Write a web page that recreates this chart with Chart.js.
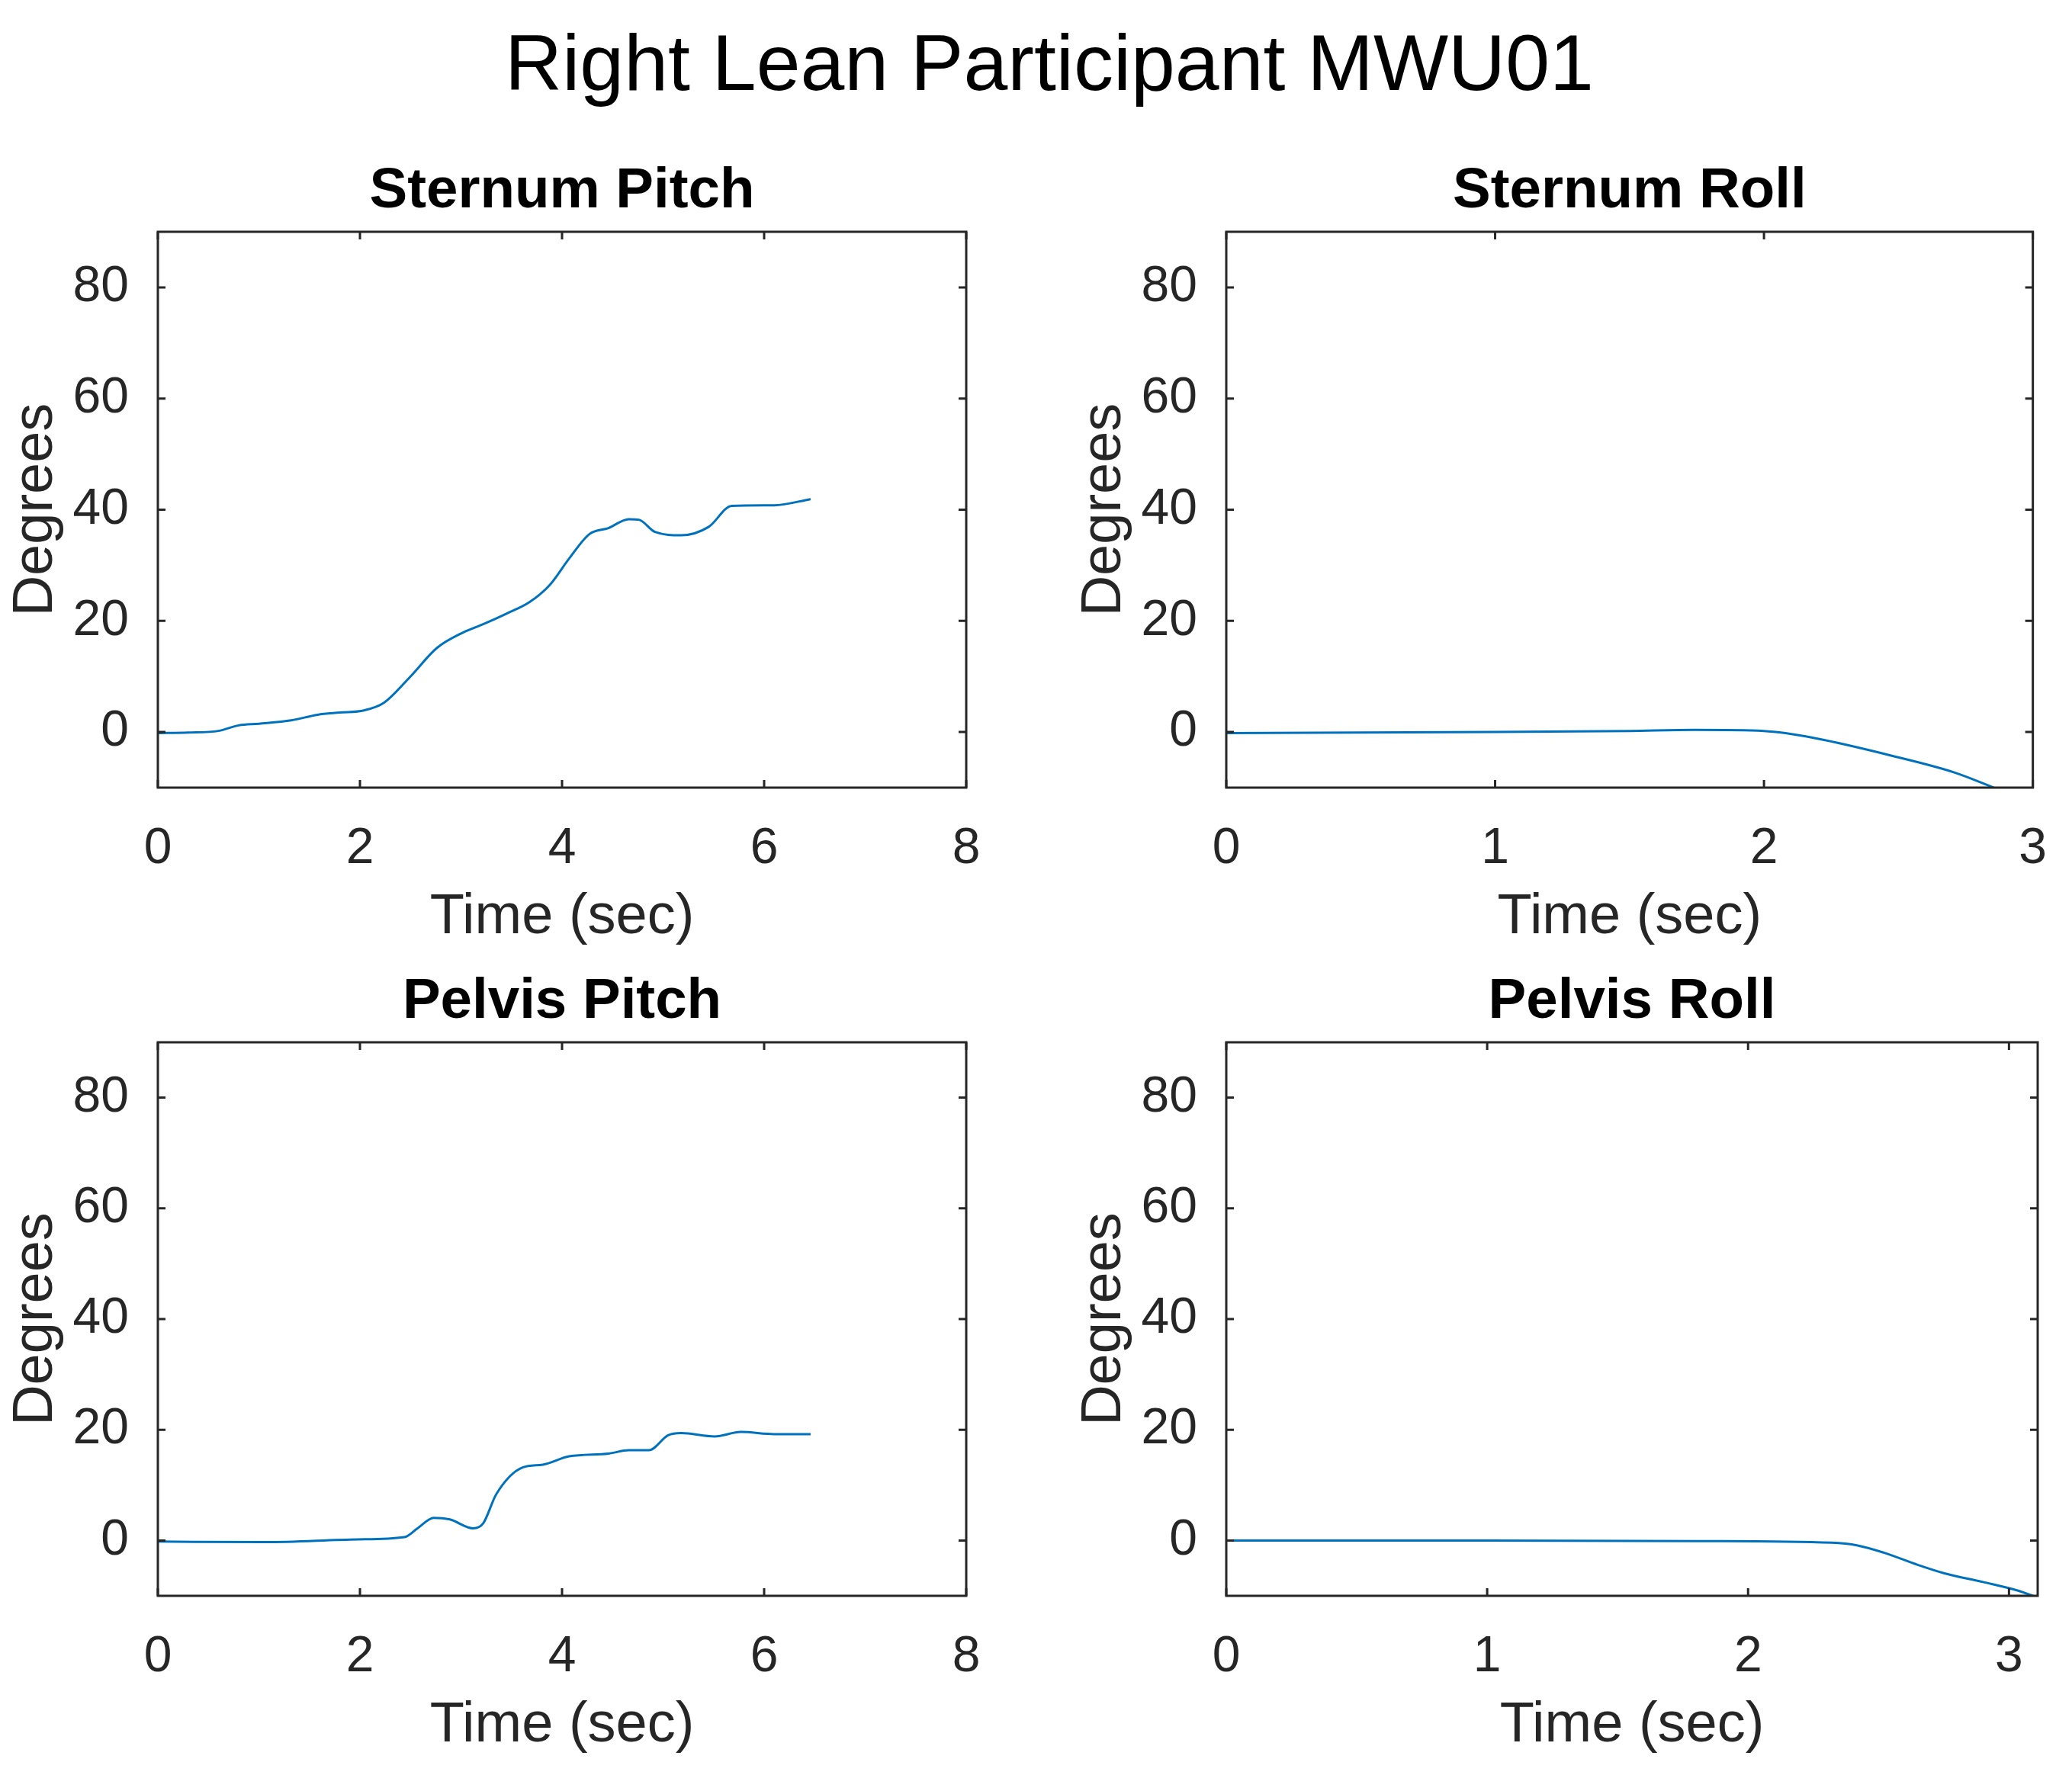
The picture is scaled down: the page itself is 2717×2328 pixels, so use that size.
<!DOCTYPE html>
<html>
<head>
<meta charset="utf-8">
<script src="https://cdn.jsdelivr.net/npm/chart.js@4.4.0/dist/chart.umd.min.js"></script>
<style>
  html, body { margin: 0; padding: 0; background: #ffffff; }
  #wrap { position: relative; width: 2717px; height: 2328px; overflow: hidden; }
  #wrap canvas { position: absolute; left: 0; top: 0; }
</style>
</head>
<body>
<div id="wrap">
  <canvas id="c1" width="2717" height="2328"></canvas>
  <canvas id="c2" width="2717" height="2328"></canvas>
  <canvas id="c3" width="2717" height="2328"></canvas>
  <canvas id="c4" width="2717" height="2328"></canvas>
</div>
<script>
// ---------- data ----------
const mainTitle = "Right Lean Participant MWU01";
const subTitles = ["Sternum Pitch", "Sternum Roll", "Pelvis Pitch", "Pelvis Roll"];
const xAxisLabel = "Time (sec)";
const yAxisLabel = "Degrees";

const yTicks = [0, 20, 40, 60, 80];
const yRange = [-10, 90];
const xTicksPitch = [0, 2, 4, 6, 8];
const xTicksRoll = [0, 1, 2, 3];
const xMaxSternumPitch = 8;
const xMaxSternumRoll = 3;
const xMaxPelvisPitch = 8;
const xMaxPelvisRoll = 3.11;

const sternumPitchT = [0, 0.3, 0.6, 0.8, 1.0, 1.32, 1.58, 1.8, 2.04, 2.24, 2.5, 2.76, 3.02, 3.22, 3.45, 3.68, 3.88, 4.07, 4.27, 4.46, 4.66, 4.76, 4.92, 5.18, 5.45, 5.68, 6.1, 6.46];
const sternumPitchV = [-0.2, -0.1, 0.2, 1.2, 1.5, 2.1, 3.1, 3.5, 3.9, 5.3, 10, 15.1, 17.9, 19.4, 21.3, 23.4, 26.5, 31.2, 35.6, 36.7, 38.3, 38.2, 36, 35.4, 36.9, 40.7, 40.8, 41.9];

const sternumRollT = [0, 0.5, 1.0, 1.5, 1.74, 2.0, 2.08, 2.22, 2.47, 2.71, 2.87];
const sternumRollV = [-0.2, -0.1, 0, 0.2, 0.4, 0.2, -0.2, -1.4, -4.2, -7.3, -10.3];

const pelvisPitchT = [0, 1.06, 1.98, 2.44, 2.57, 2.73, 2.89, 3.12, 3.22, 3.35, 3.61, 3.81, 4.07, 4.46, 4.66, 4.86, 5.05, 5.18, 5.51, 5.77, 6.1, 6.46];
const pelvisPitchV = [-0.2, -0.3, 0.2, 0.6, 2.2, 4.1, 3.8, 2.2, 3.1, 8.4, 13.2, 13.7, 15.2, 15.7, 16.3, 16.3, 19, 19.4, 18.8, 19.6, 19.2, 19.2];

const pelvisRollT = [0, 1.0, 1.81, 2.32, 2.42, 2.52, 2.65, 2.75, 2.9, 3.03, 3.11];
const pelvisRollV = [0, 0, -0.1, -0.4, -0.9, -2.2, -4.4, -5.9, -7.5, -9, -10.3];

// ---------- styling ----------
const FONT = "'Liberation Sans', Arial, Helvetica, sans-serif";
const LINE_COLOR = "#0072BD";
const AXIS_COLOR = "#262626";

function toPoints(ts, vs) { return ts.map((t, i) => ({ x: t, y: vs[i] })); }

const boxPlugin = {
  id: 'matlabBox',
  afterDatasetsDraw(chart) {
    const { ctx, chartArea: a, scales } = chart;
    const tl = 10;
    ctx.save();
    ctx.strokeStyle = AXIS_COLOR;
    ctx.lineWidth = 3;
    ctx.beginPath();
    scales.x.ticks.forEach(tk => {
      const px = scales.x.getPixelForValue(tk.value);
      ctx.moveTo(px, a.bottom); ctx.lineTo(px, a.bottom - tl);
      ctx.moveTo(px, a.top); ctx.lineTo(px, a.top + tl);
    });
    scales.y.ticks.forEach(tk => {
      const py = scales.y.getPixelForValue(tk.value);
      ctx.moveTo(a.left, py); ctx.lineTo(a.left + tl, py);
      ctx.moveTo(a.right, py); ctx.lineTo(a.right - tl, py);
    });
    ctx.stroke();
    ctx.strokeRect(a.left, a.top, a.right - a.left, a.bottom - a.top);
    ctx.restore();
  }
};

const mainTitlePlugin = {
  id: 'mainTitle',
  afterDraw(chart) {
    const ctx = chart.ctx;
    ctx.save();
    ctx.fillStyle = "#000000";
    ctx.font = "104px " + FONT;
    ctx.textAlign = "center";
    ctx.textBaseline = "alphabetic";
    ctx.fillText(mainTitle, 1376, 118);
    ctx.restore();
  }
};

function makeChart(id, title, pts, xMax, xTicks, padding, extraPlugins) {
  return new Chart(document.getElementById(id), {
    type: 'line',
    data: {
      datasets: [{
        data: pts,
        borderColor: LINE_COLOR,
        borderWidth: 3,
        pointRadius: 0,
        fill: false,
        cubicInterpolationMode: 'monotone'
      }]
    },
    options: {
      responsive: false,
      animation: false,
      devicePixelRatio: 1,
      layout: { padding: padding },
      plugins: {
        legend: { display: false },
        tooltip: { enabled: false },
        title: {
          display: true,
          text: title,
          fullSize: false,
          color: "#000000",
          font: { family: FONT, size: 74.5, weight: 'bold', lineHeight: 1.2 },
          padding: { top: 0, bottom: 8 }
        }
      },
      scales: {
        x: {
          type: 'linear',
          min: 0,
          max: xMax,
          grid: { display: false },
          border: { display: false },
          afterBuildTicks: s => { s.ticks = xTicks.map(v => ({ value: v })); },
          afterFit: s => { s.height = 220; },
          ticks: {
            color: AXIS_COLOR,
            padding: 33,
            maxRotation: 0,
            autoSkip: false,
            font: { family: FONT, size: 66, lineHeight: 1.2 }
          },
          title: {
            display: true,
            text: xAxisLabel,
            color: AXIS_COLOR,
            font: { family: FONT, size: 74, lineHeight: 1.2 },
            padding: { top: 0, bottom: 5 }
          }
        },
        y: {
          type: 'linear',
          min: yRange[0],
          max: yRange[1],
          grid: { display: false },
          border: { display: false },
          afterBuildTicks: s => { s.ticks = yTicks.map(v => ({ value: v })); },
          afterFit: s => { s.width = 207; },
          ticks: {
            color: AXIS_COLOR,
            padding: 30,
            autoSkip: false,
            font: { family: FONT, size: 66, lineHeight: 1.2 }
          },
          title: {
            display: true,
            text: yAxisLabel,
            color: AXIS_COLOR,
            font: { family: FONT, size: 74, lineHeight: 1.2 },
            padding: { top: 3, bottom: 0 }
          }
        }
      }
    },
    plugins: [boxPlugin].concat(extraPlugins || [])
  });
}

makeChart('c1', subTitles[0], toPoints(sternumPitchT, sternumPitchV), xMaxSternumPitch, xTicksPitch,
  { left: 0, right: 1450, top: 206.6, bottom: 1075 }, [mainTitlePlugin]);
makeChart('c2', subTitles[1], toPoints(sternumRollT, sternumRollV), xMaxSternumRoll, xTicksRoll,
  { left: 1401, right: 45, top: 206.6, bottom: 1075 });
makeChart('c3', subTitles[2], toPoints(pelvisPitchT, pelvisPitchV), xMaxPelvisPitch, xTicksPitch,
  { left: 0, right: 1450, top: 1269.6, bottom: 15 });
makeChart('c4', subTitles[3], toPoints(pelvisRollT, pelvisRollV), xMaxPelvisRoll, xTicksRoll,
  { left: 1401, right: 45, top: 1269.6, bottom: 15 });
</script>
</body>
</html>
